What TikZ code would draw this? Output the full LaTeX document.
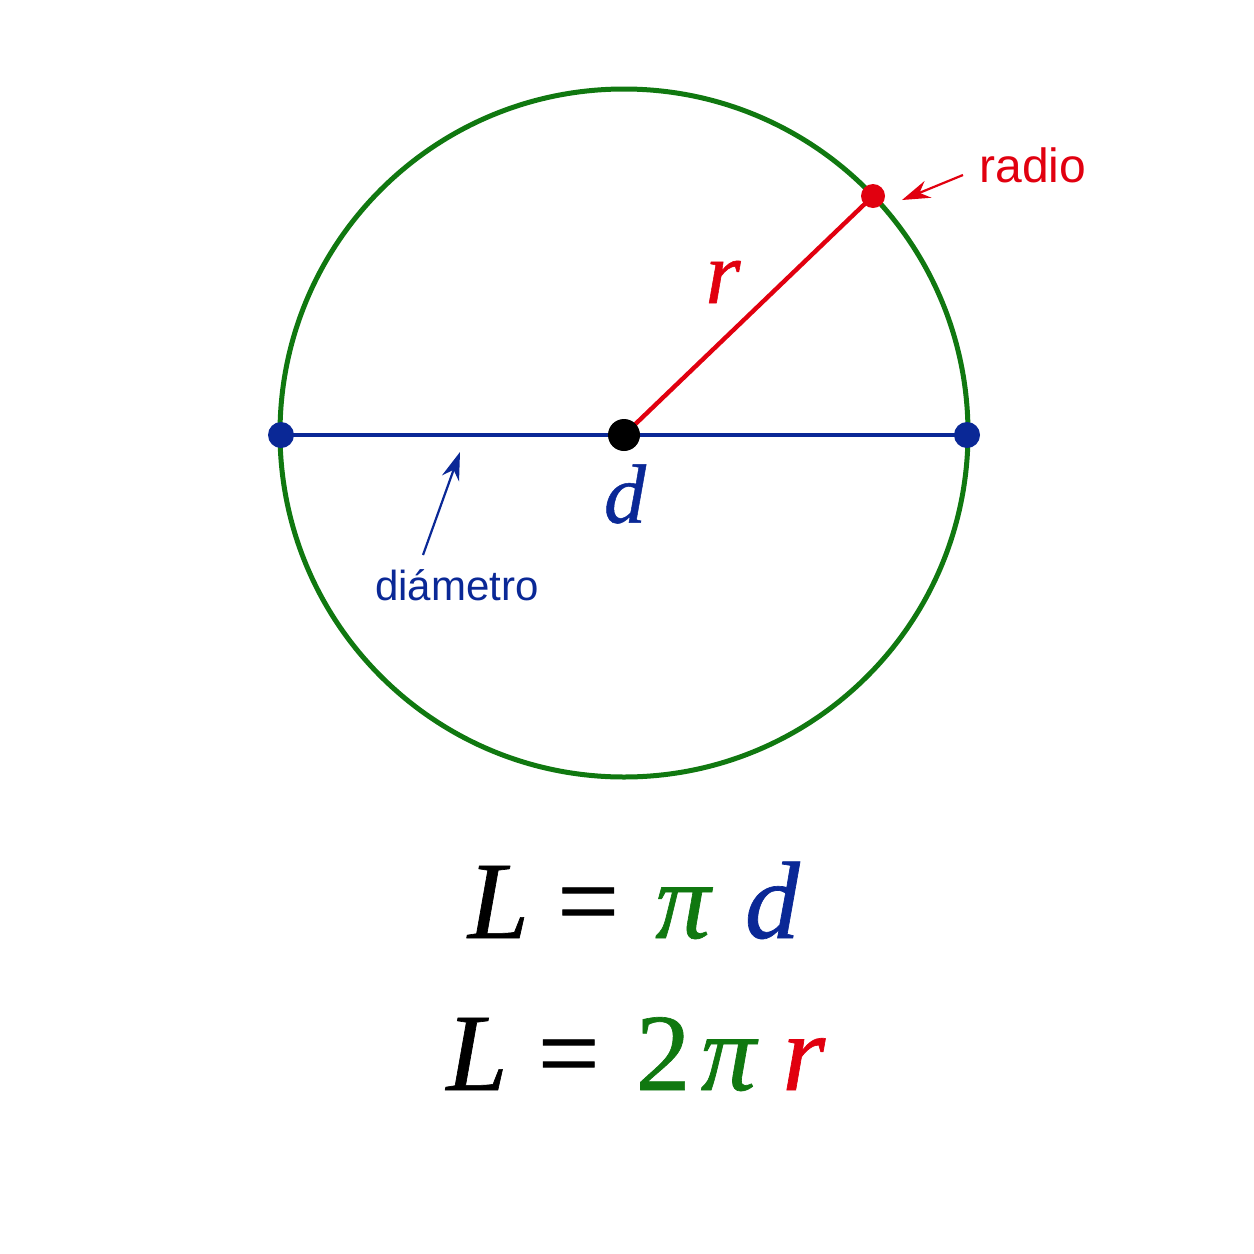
\documentclass[tikz,border=0pt]{standalone}
\usepackage{fontspec}
\setmainfont{Liberation Serif}
\newfontfamily\labelfont{Liberation Sans}
\newfontfamily\eqfont[FakeBold=0.6]{Liberation Serif}
\usetikzlibrary{arrows.meta}
\definecolor{cgreen}{RGB}{16,120,16}
\definecolor{cblue}{RGB}{10,40,150}
\definecolor{cred}{RGB}{225,0,15}
\tikzset{
  dot/.style={circle,inner sep=0pt,minimum size=#1},
  lbl/.style={font=\labelfont\fontsize{24pt}{28pt}\selectfont},
  eqn/.style={anchor=base,inner sep=0pt,font=\eqfont\fontsize{55pt}{60pt}\selectfont},
  pointer/.style={-{Stealth[length=14pt,width=9pt]},line width=1.1pt}
}
\begin{document}
\begin{tikzpicture}[x=0.5pt,y=-0.5pt]
\useasboundingbox (0,0) rectangle (1254,1254);
\coordinate (O) at (624,435);
\draw[cgreen,line width=2.5pt] (624,433) circle[radius=344];
\node[dot=13pt,fill=cblue] (A) at (281,435) {};
\node[dot=13pt,fill=cblue] (B) at (967,435) {};
\node[dot=12pt,fill=cred] (R) at (873,196) {};
\draw[cblue,line width=2.2pt] (A.center) -- (B.center);
\draw[cred,line width=2.2pt] (O) -- (R.center);
\node[dot=16pt,fill=black] (C) at (O) {};
\node[text=cred,font=\eqfont\itshape\fontsize{45pt}{50pt}\selectfont] (rl) at (723,282) {r};
\node[text=cblue,font=\eqfont\itshape\fontsize{42pt}{50pt}\selectfont] (dl) at (625,494) {d};
\node[lbl,text=cred,anchor=base west,inner sep=0pt] (radio) at (979,182) {radio};
\coordinate (ra) at (963,175);
\draw[pointer,cred] (ra) -- (902,200);
\node[lbl,text=cblue,font=\labelfont\fontsize{21pt}{24pt}\selectfont] (diam) at (457,585) {diámetro};
\draw[pointer,cblue] (423,555) -- (460,452);
\node[eqn] (eq1) at (634,938) {\textit{L}\hspace{14pt}=\hspace{18pt}\textcolor{cgreen}{\textit{π}}\hspace{16pt}\textcolor{cblue}{\textit{d}}};
\node[eqn] (eq2) at (636,1090) {\textit{L}\hspace{15pt}=\hspace{18pt}\textcolor{cgreen}{2\hspace{5pt}\textit{π}}\hspace{12pt}\textcolor{cred}{\textit{r}}};
\end{tikzpicture}
\end{document}
